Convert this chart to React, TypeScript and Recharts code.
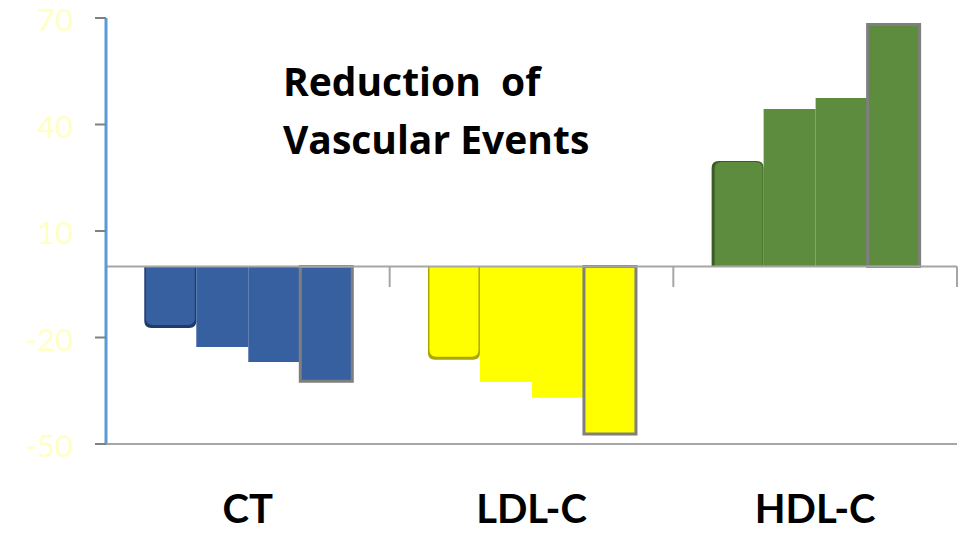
import { BarChart, Bar, XAxis, YAxis, Cell, ReferenceLine } from 'recharts';

// values (percent change)
const categories = ['CT', 'LDL-C', 'HDL-C'];
const study1 = [-17.3, -26.3, 29.7];
const study2 = [-22.7, -32.5, 44.4];
const study3 = [-26.9, -37, 47.5];
const study4 = [-32.3, -47.2, 68.2];
const yTicks = [-50, -20, 10, 40, 70];

const fills = ['#3760A1', '#FFFF00', '#5E8C3E'];
const darkFills = ['#1F3A6B', '#A8A800', '#3B5C26'];

const data = categories.map((name, i) => ({
  name,
  s1: study1[i],
  s2: study2[i],
  s3: study3[i],
  s4: study4[i],
}));

// first bar of each group: rounded far end with a darker rim
const RoundedEnd = (props: any) => {
  const { x, y, width, height, payload, index } = props;
  const top = Math.min(y, y + height);
  const h = Math.abs(height);
  const bottom = top + h;
  const neg = payload.s1 < 0;
  const r = 7;
  const path = (x0: number, t: number, w: number, b: number) =>
    neg
      ? `M${x0},${t} L${x0 + w},${t} L${x0 + w},${b - r} Q${x0 + w},${b} ${x0 + w - r},${b} L${x0 + r},${b} Q${x0},${b} ${x0},${b - r} Z`
      : `M${x0},${b} L${x0},${t + r} Q${x0},${t} ${x0 + r},${t} L${x0 + w - r},${t} Q${x0 + w},${t} ${x0 + w},${t + r} L${x0 + w},${b} Z`;
  return (
    <g>
      <path d={path(x, top, width, bottom)} fill={darkFills[index]} />
      {neg ? (
        <path d={path(x + 1.5, top, width - 3, bottom - 3)} fill={fills[index]} />
      ) : (
        <path d={path(x + 3, top + 1, width - 4, bottom)} fill={fills[index]} />
      )}
    </g>
  );
};

const CategoryTick = (props: any) => {
  const { x, y, payload } = props;
  return (
    <text
      x={x}
      y={y + 77}
      textAnchor="middle"
      fill="#000"
      fontSize={40}
      fontWeight={700}
      fontFamily="Lato, 'Open Sans', sans-serif"
    >
      {payload.value}
    </text>
  );
};

const sepStyle = { stroke: '#A6A6A6', strokeWidth: 2 };

export default function App() {
  return (
    <div style={{ position: 'absolute', left: 0, top: 0, width: 961, height: 533, background: '#fff' }}>
      <BarChart
        width={961}
        height={533}
        data={data}
        margin={{ top: 18, right: 4, bottom: 0, left: 0 }}
        barCategoryGap="13.5%"
        barGap={0}
      >
        <XAxis
          dataKey="name"
          height={89}
          axisLine={false}
          tickLine={false}
          tickSize={0}
          tick={<CategoryTick />}
        />
        <YAxis
          width={106}
          domain={[-50, 70]}
          ticks={yTicks}
          interval={0}
          axisLine={{ stroke: '#5B9BD5', strokeWidth: 3 }}
          tickLine={{ stroke: '#808080', strokeWidth: 2 }}
          tickSize={11}
          tickMargin={22}
          tick={{ fill: '#FFFFC4', fontSize: 31, fontFamily: 'Lato, sans-serif', dy: 2 }}
        />
        <ReferenceLine y={-50} stroke="#A6A6A6" strokeWidth={2} />
        <ReferenceLine y={0} stroke="#A6A6A6" strokeWidth={2} />
        <ReferenceLine position="start" segment={[{ x: 'CT', y: 0 }, { x: 'CT', y: -4.3 }]} {...sepStyle} />
        <ReferenceLine position="end" segment={[{ x: 'CT', y: 0 }, { x: 'CT', y: -5.8 }]} {...sepStyle} />
        <ReferenceLine position="end" segment={[{ x: 'LDL-C', y: 0 }, { x: 'LDL-C', y: -5.8 }]} {...sepStyle} />
        <ReferenceLine position="end" segment={[{ x: 'HDL-C', y: 0 }, { x: 'HDL-C', y: -5.8 }]} {...sepStyle} />
        <Bar dataKey="s1" shape={<RoundedEnd />} isAnimationActive={false}>
          {data.map((d, i) => (
            <Cell key={d.name} fill={fills[i]} />
          ))}
        </Bar>
        <Bar dataKey="s2" isAnimationActive={false}>
          {data.map((d, i) => (
            <Cell key={d.name} fill={fills[i]} />
          ))}
        </Bar>
        <Bar dataKey="s3" isAnimationActive={false}>
          {data.map((d, i) => (
            <Cell key={d.name} fill={fills[i]} />
          ))}
        </Bar>
        <Bar dataKey="s4" stroke="#7F7F7F" strokeWidth={3} isAnimationActive={false}>
          {data.map((d, i) => (
            <Cell key={d.name} fill={fills[i]} />
          ))}
        </Bar>
      </BarChart>
      <div
        style={{
          position: 'absolute',
          left: 283,
          top: 52,
          fontFamily: "'Open Sans', sans-serif",
          fontWeight: 700,
          fontSize: 39,
          lineHeight: '58px',
          color: '#000',
          whiteSpace: 'pre',
        }}
      >
        {'Reduction  of\nVascular Events'}
      </div>
    </div>
  );
}
